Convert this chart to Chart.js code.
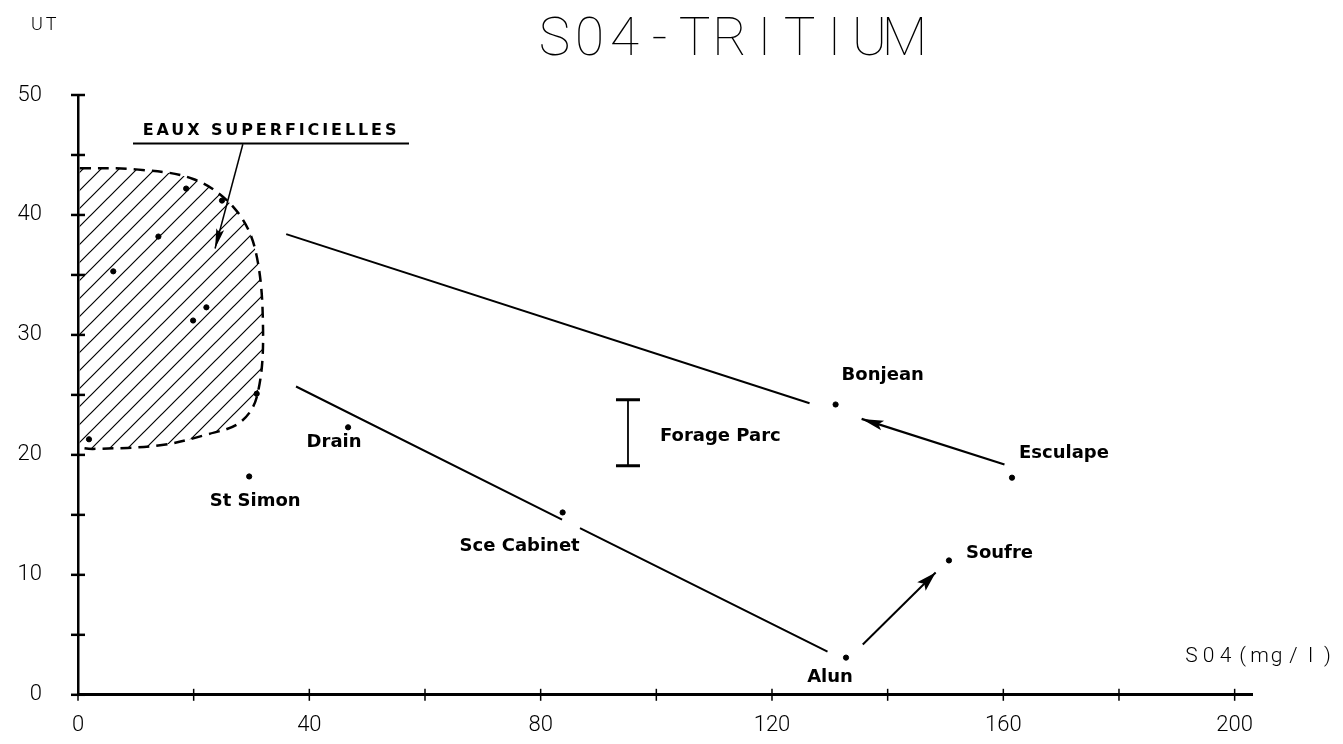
<!DOCTYPE html>
<html>
<head>
<meta charset="utf-8">
<script src="https://cdn.jsdelivr.net/npm/chart.js@4.4.0/dist/chart.umd.min.js"></script>
<style>
  html, body { margin: 0; padding: 0; background: #fff; }
  #wrap { width: 1343px; height: 744px; }
</style>
</head>
<body>
<div id="wrap"><canvas id="myChart" width="1343" height="744"></canvas></div>
<script>
// sample points (SO4 in mg/l, tritium in UT)
const stationNames = ['Bonjean', 'Esculape', 'Soufre', 'Alun', 'Sce Cabinet', 'Drain', 'St Simon'];
const stationSO4 = [131.0, 161.5, 150.6, 132.8, 83.8, 46.7, 29.6];
const stationUT = [24.2, 18.1, 11.2, 3.1, 15.2, 22.3, 18.2];

// surface water samples (inside the hatched zone)
const surfaceSO4 = [18.7, 24.9, 13.9, 6.1, 22.2, 19.9, 30.9, 1.9];
const surfaceUT = [42.2, 41.2, 38.2, 35.3, 32.3, 31.2, 25.1, 21.3];

// outline of the "eaux superficielles" zone
const zoneSO4 = [0.3, 10.0, 19.9, 26.8, 30.6, 32.0, 30.9, 28.0, 22.3, 14.2, 2.6, 0.3];
const zoneUT = [43.9, 43.8, 43.0, 40.7, 37.2, 30.3, 24.8, 22.7, 21.7, 20.8, 20.5, 20.6];

// trend lines
const upperLineSO4 = [36.0, 126.5];
const upperLineUT = [38.4, 24.3];
const lowerLineSO4 = [37.7, 83.7, 85.2, 86.8, 129.6];
const lowerLineUT = [25.7, 14.6, null, 13.9, 3.6];

// arrows (tail -> tip)
const escArrowSO4 = [160.2, 135.5];
const escArrowUT = [19.2, 23.0];
const alunArrowSO4 = [135.7, 148.3];
const alunArrowUT = [4.2, 10.2];
const eauxArrowSO4 = [28.5, 23.7];
const eauxArrowUT = [45.9, 37.2];

// Forage Parc range
const forageSO4 = [95.1, 95.1];
const forageUT = [19.1, 24.6];

// axes
const xTickValues = [0, 20, 40, 60, 80, 100, 120, 140, 160, 180, 200];
const xTickLabels = [0, 40, 80, 120, 160, 200];
const yTickValues = [0, 5, 10, 15, 20, 25, 30, 35, 40, 45, 50];
const yTickLabels = [0, 10, 20, 30, 40, 50];

const pairs = (xs, ys) => xs.map((x, i) => ({x: x, y: ys[i]}));

// hatch pattern
function makeHatch() {
  const s = 18;
  const c = document.createElement('canvas');
  c.width = s; c.height = s;
  const g = c.getContext('2d');
  g.strokeStyle = '#000';
  g.lineWidth = 1.2;
  g.beginPath();
  g.moveTo(0, s); g.lineTo(s, 0);
  g.moveTo(-2, 2); g.lineTo(2, -2);
  g.moveTo(s - 2, s + 2); g.lineTo(s + 2, s - 2);
  g.stroke();
  return g.createPattern(c, 'repeat');
}

const plotFont = 'Roboto, "DejaVu Sans", sans-serif';
const labelFont = 'bold 18px "DejaVu Sans", sans-serif';

// plotter style text: every character on a fixed advance
function plotText(ctx, text, left, baseline, advance) {
  ctx.textAlign = 'center';
  for (let i = 0; i < text.length; i++) {
    ctx.fillText(text[i], left + advance * (i + 0.5), baseline);
  }
}

function arrowHead(ctx, x0, y0, x1, y1, len, half) {
  const a = Math.atan2(y1 - y0, x1 - x0);
  ctx.save();
  ctx.translate(x1, y1);
  ctx.rotate(a);
  ctx.beginPath();
  ctx.moveTo(0, 0);
  ctx.lineTo(-len, -half);
  ctx.lineTo(-len * 0.8, 0);
  ctx.lineTo(-len, half);
  ctx.closePath();
  ctx.fill();
  ctx.restore();
}

// labels, ticks, arrow heads, titles
const decorations = {
  id: 'decorations',
  afterDatasetsDraw(chart) {
    const {ctx, chartArea, scales: {x, y}} = chart;
    ctx.save();
    ctx.fillStyle = '#000';
    ctx.strokeStyle = '#000';

    // tick marks crossing the axes
    ctx.lineWidth = 1.5;
    xTickValues.forEach(v => {
      const px = x.getPixelForValue(v);
      ctx.beginPath();
      ctx.moveTo(px, chartArea.bottom - 6);
      ctx.lineTo(px, chartArea.bottom + 6);
      ctx.stroke();
    });
    ctx.lineWidth = 2.5;
    yTickValues.forEach(v => {
      const py = y.getPixelForValue(v);
      ctx.beginPath();
      ctx.moveTo(chartArea.left - 7, py);
      ctx.lineTo(chartArea.left + 7, py);
      ctx.stroke();
    });

    // station labels
    const offsets = {
      'Bonjean': [6, -29, 'left'],
      'Esculape': [7, -24, 'left'],
      'Soufre': [17, -7, 'left'],
      'Alun': [-16, 20, 'center'],
      'Sce Cabinet': [-43, 34, 'center'],
      'Drain': [-14, 15, 'center'],
      'St Simon': [6, 25, 'center']
    };
    ctx.font = labelFont;
    ctx.textBaseline = 'middle';
    stationNames.forEach((n, i) => {
      const o = offsets[n];
      ctx.textAlign = o[2];
      ctx.fillText(n, x.getPixelForValue(stationSO4[i]) + o[0], y.getPixelForValue(stationUT[i]) + o[1]);
    });

    // Forage Parc label
    ctx.textAlign = 'left';
    const fx = x.getPixelForValue(forageSO4[0]);
    const fy = (y.getPixelForValue(forageUT[0]) + y.getPixelForValue(forageUT[1])) / 2;
    ctx.fillText('Forage Parc', fx + 32, fy + 4);

    // EAUX SUPERFICIELLES with underline
    ctx.font = 'bold 16px "DejaVu Sans", sans-serif';
    ctx.letterSpacing = '2.9px';
    ctx.textAlign = 'center';
    ctx.fillText('EAUX SUPERFICIELLES', 271, 131);
    ctx.letterSpacing = '0px';
    ctx.lineWidth = 2;
    ctx.beginPath();
    ctx.moveTo(133, 143.5);
    ctx.lineTo(409, 143.5);
    ctx.stroke();

    // arrow heads
    const head = (xs, ys, len, half) => arrowHead(ctx,
      x.getPixelForValue(xs[0]), y.getPixelForValue(ys[0]),
      x.getPixelForValue(xs[1]), y.getPixelForValue(ys[1]), len, half);
    head(escArrowSO4, escArrowUT, 22, 5);
    head(alunArrowSO4, alunArrowUT, 20, 6);
    head(eauxArrowSO4, eauxArrowUT, 20, 4);

    // title and axis names
    ctx.textBaseline = 'alphabetic';
    ctx.font = '100 53px ' + plotFont;
    plotText(ctx, 'S04-TRITIUM', 537, 55, 35);
    ctx.font = '300 18px ' + plotFont;
    plotText(ctx, 'UT', 30, 30, 14);
    ctx.font = '300 21px ' + plotFont;
    plotText(ctx, 'S04(mg/l)', 1183, 662, 17);
    ctx.restore();
  }
};

const data = {
  datasets: [
    {
      label: 'zone',
      type: 'line',
      data: pairs(zoneSO4, zoneUT),
      borderColor: '#000',
      borderWidth: 2.5,
      borderDash: [11, 7],
      backgroundColor: makeHatch(),
      fill: 'shape',
      tension: 0.35,
      pointRadius: 0
    },
    {
      label: 'surface',
      data: pairs(surfaceSO4, surfaceUT),
      backgroundColor: '#000',
      borderColor: '#000',
      pointRadius: 2.6
    },
    {
      label: 'stations',
      data: pairs(stationSO4, stationUT),
      backgroundColor: '#000',
      borderColor: '#000',
      pointRadius: 2.6
    },
    {
      label: 'upper',
      type: 'line',
      data: pairs(upperLineSO4, upperLineUT),
      borderColor: '#000',
      borderWidth: 2,
      pointRadius: 0
    },
    {
      label: 'lower',
      type: 'line',
      data: pairs(lowerLineSO4, lowerLineUT),
      borderColor: '#000',
      borderWidth: 2,
      spanGaps: false,
      pointRadius: 0
    },
    {
      label: 'escArrow',
      type: 'line',
      data: pairs(escArrowSO4, escArrowUT),
      borderColor: '#000',
      borderWidth: 2.2,
      pointRadius: 0
    },
    {
      label: 'alunArrow',
      type: 'line',
      data: pairs(alunArrowSO4, alunArrowUT),
      borderColor: '#000',
      borderWidth: 2,
      pointRadius: 0
    },
    {
      label: 'eauxArrow',
      type: 'line',
      data: pairs(eauxArrowSO4, eauxArrowUT),
      borderColor: '#000',
      borderWidth: 1.5,
      pointRadius: 0
    },
    {
      label: 'forage',
      type: 'line',
      data: pairs(forageSO4, forageUT),
      borderColor: '#000',
      borderWidth: 1.8,
      pointStyle: 'line',
      pointRadius: 12,
      pointBorderWidth: 3
    }
  ]
};

const config = {
  type: 'scatter',
  data,
  options: {
    responsive: false,
    animation: false,
    layout: { padding: { left: 0, top: 95, right: 91, bottom: 0 } },
    plugins: {
      legend: { display: false },
      tooltip: { enabled: false }
    },
    scales: {
      x: {
        type: 'linear',
        min: 0,
        max: 203,
        afterFit(scale) { scale.height = 44; },
        afterBuildTicks(scale) { scale.ticks = xTickLabels.map(v => ({value: v})); },
        grid: { display: false, drawTicks: false },
        border: { display: true, color: '#000', width: 3 },
        ticks: {
          color: '#000',
          padding: 17,
          maxRotation: 0,
          autoSkip: false,
          font: { family: plotFont, size: 22, weight: '300' },
          callback: v => String(v)
        }
      },
      y: {
        type: 'linear',
        min: 0,
        max: 50,
        afterFit(scale) { scale.width = 78; },
        afterBuildTicks(scale) { scale.ticks = yTickLabels.map(v => ({value: v})); },
        grid: { display: false, drawTicks: false },
        border: { display: true, color: '#000', width: 2.5 },
        ticks: {
          color: '#000',
          padding: 36,
          autoSkip: false,
          font: { family: plotFont, size: 22, weight: '300' },
          callback: v => String(v)
        }
      }
    }
  },
  plugins: [decorations]
};

const myChart = new Chart(document.getElementById('myChart'), config);
</script>
</body>
</html>
